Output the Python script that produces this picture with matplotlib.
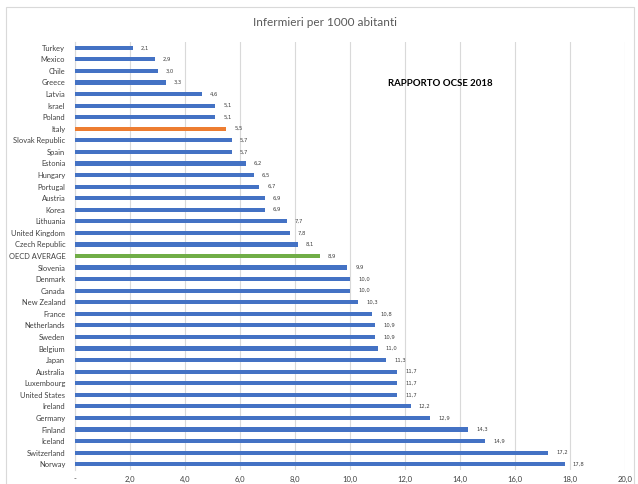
import matplotlib
matplotlib.use("Agg")
import matplotlib.pyplot as plt
from matplotlib.patches import Rectangle

countries = ["Turkey", "Mexico", "Chile", "Greece", "Latvia", "Israel", "Poland", "Italy",
             "Slovak Republic", "Spain", "Estonia", "Hungary", "Portugal", "Austria", "Korea",
             "Lithuania", "United Kingdom", "Czech Republic", "OECD AVERAGE", "Slovenia",
             "Denmark", "Canada", "New Zealand", "France", "Netherlands", "Sweden", "Belgium",
             "Japan", "Australia", "Luxembourg", "United States", "Ireland", "Germany",
             "Finland", "Iceland", "Switzerland", "Norway"]
values = [2.1, 2.9, 3.0, 3.3, 4.6, 5.1, 5.1, 5.5, 5.7, 5.7, 6.2, 6.5, 6.7, 6.9, 6.9,
          7.7, 7.8, 8.1, 8.9, 9.9, 10.0, 10.0, 10.3, 10.8, 10.9, 10.9, 11.0, 11.3, 11.7,
          11.7, 11.7, 12.2, 12.9, 14.3, 14.9, 17.2, 17.8]
xticks = [0, 2, 4, 6, 8, 10, 12, 14, 16, 18, 20]
xticklabels = ["-", "2,0", "4,0", "6,0", "8,0", "10,0", "12,0", "14,0", "16,0", "18,0", "20,0"]

BLUE = "#4472C4"
ORANGE = "#ED7D31"
GREEN = "#70AD47"
colors = [ORANGE if c == "Italy" else GREEN if c == "OECD AVERAGE" else BLUE for c in countries]

plt.rcParams['font.family'] = ['Lato', 'DejaVu Sans']

fig = plt.figure(figsize=(6.38, 4.84), dpi=100)
fig.patch.set_facecolor("white")
fig.add_artist(Rectangle((6 / 638, -0.05), 628 / 638, 1 - 7 / 484 + 0.05,
                         transform=fig.transFigure, fill=False, edgecolor="#d9d9d9", lw=0.8))

ax = fig.add_axes([75 / 638, 14 / 484, 550 / 638, 428 / 484])
y = list(range(len(countries)))
ax.barh(y, values, height=0.36, color=colors, zorder=3)
ax.set_ylim(len(countries) - 0.5, -0.5)
ax.set_xlim(0, 20)
ax.set_yticks(y)
ax.set_yticklabels(countries, fontsize=5.4, color="#404040")
ax.set_xticks(xticks)
ax.set_xticklabels(xticklabels, fontsize=5.5, color="#404040")
ax.tick_params(length=0, pad=4)
ax.tick_params(axis="y", pad=7)
ax.grid(axis="x", color="#d9d9d9", lw=0.8, zorder=0)
for s in ["top", "right", "bottom"]:
    ax.spines[s].set_visible(False)
ax.spines["left"].set_color("#d9d9d9")
ax.spines["left"].set_linewidth(0.8)

for yi, v in zip(y, values):
    ax.text(v + 0.3, yi, f"{v:.1f}".replace(".", ","), fontsize=3.8, color="#404040",
            va="center", ha="left", family=["DejaVu Sans"])

fig.text(325 / 638, 1 - 23 / 484, "Infermieri per 1000 abitanti", fontsize=8.5,
         color="#595959", ha="center", va="center")
fig.text(440 / 638, 1 - 83 / 484, "RAPPORTO OCSE 2018", fontsize=6.9, fontweight="bold",
         color="black", ha="center", va="center")

fig.savefig("out.png", dpi=100)
